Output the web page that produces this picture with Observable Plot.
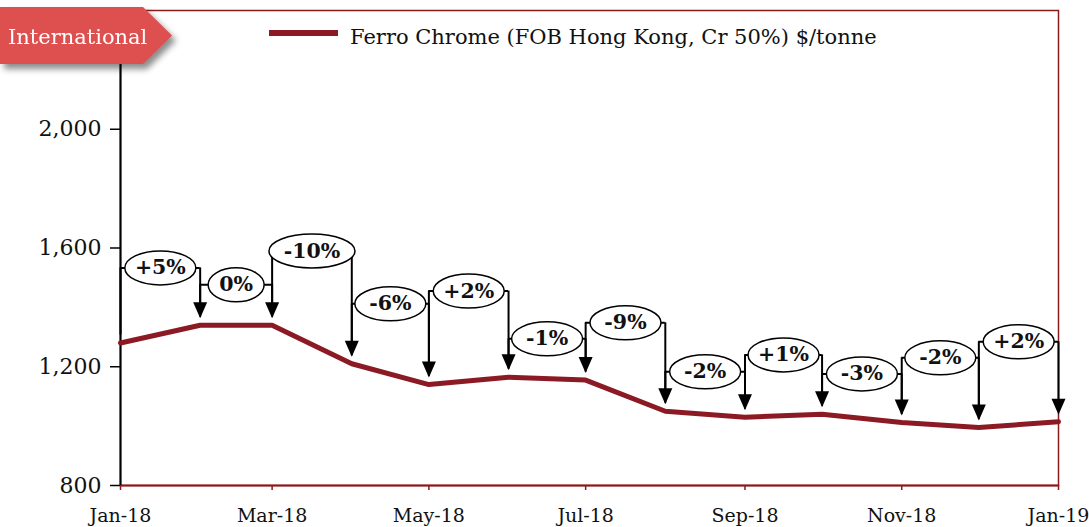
<!DOCTYPE html>
<html><head><meta charset="utf-8">
<script src="https://cdn.jsdelivr.net/npm/d3@7"></script>
<script src="https://cdn.jsdelivr.net/npm/@observablehq/plot@0.6"></script>
<style>
body{margin:0;background:#fff;}
#wrap{position:relative;width:1089px;height:527px;font-family:"DejaVu Serif",serif;}
#wrap svg{position:absolute;left:0;top:0;}
#tagwrap{position:absolute;left:0;top:7px;filter:drop-shadow(4px 5px 3px rgba(0,0,0,0.45));}
#tag{width:172px;height:57px;background:#DE4F4F;clip-path:polygon(0 0,143px 0,172px 50%,143px 100%,0 100%);color:#fff;font-size:21px;line-height:57px;padding-left:8px;padding-top:2px;box-sizing:border-box;}
#legend-sw{position:absolute;left:269px;top:30px;width:69px;height:6px;background:#8B1A24;}
#legend-tx{position:absolute;left:350px;top:22px;font-size:21px;line-height:30px;color:#111;white-space:nowrap;}
</style></head><body><div id="wrap"></div>
<script>
const months = ["2018-01-01","2018-02-01","2018-03-01","2018-04-01","2018-05-01","2018-06-01","2018-07-01","2018-08-01","2018-09-01","2018-10-01","2018-11-01","2018-12-01","2019-01-01"];
const prices = [1280,1340,1340,1210,1140,1165,1155,1050,1030,1040,1012,995,1015];
const changeLabels = ["+5%","0%","-10%","-6%","+2%","-1%","-9%","-2%","+1%","-3%","-2%","+2%"];
const bubbleLevels = [1533,1476,1590,1412,1455,1294,1348,1183,1240,1176,1230,1284];
const yTicks = [800,1200,1600,2000];
const xTickDates = ["2018-01-01","2018-03-01","2018-05-01","2018-07-01","2018-09-01","2018-11-01","2019-01-01"];
const xTickLabels = ["Jan-18","Mar-18","May-18","Jul-18","Sep-18","Nov-18","Jan-19"];
const seriesName = "Ferro Chrome (FOB Hong Kong, Cr 50%) $/tonne";
const regionLabel = "International";

const lineColor = "#8B1A24";
const frameColor = "#8B1A1A";
const dates = months.map(m => new Date(m));
const points = dates.map((d, i) => ({date: d, price: prices[i]}));
const segments = changeLabels.map((label, i) => ({
  label,
  x1: dates[i], x2: dates[i + 1],
  xm: new Date((+dates[i] + +dates[i + 1]) / 2),
  level: bubbleLevels[i], y1: prices[i], y2: prices[i + 1]
}));
const tickDates = xTickDates.map(d => new Date(d));
const labelOf = new Map(tickDates.map((d, i) => [+d, xTickLabels[i]]));

const arrowHead = {draw(ctx) { ctx.moveTo(0, 0); ctx.lineTo(-7, -16); ctx.lineTo(7, -16); ctx.closePath(); }};
const ellipse = {draw(ctx, size) {
  const rx = Math.sqrt(size / Math.PI), ry = 17, k = 0.5523;
  ctx.moveTo(rx, 0);
  ctx.bezierCurveTo(rx, ry * k, rx * k, ry, 0, ry);
  ctx.bezierCurveTo(-rx * k, ry, -rx, ry * k, -rx, 0);
  ctx.bezierCurveTo(-rx, -ry * k, -rx * k, -ry, 0, -ry);
  ctx.bezierCurveTo(rx * k, -ry, rx, -ry * k, rx, 0);
  ctx.closePath();
}};

const chart = Plot.plot({
  width: 1089, height: 527,
  marginLeft: 120, marginRight: 31, marginTop: 10, marginBottom: 42,
  style: {fontFamily: "DejaVu Serif", fontSize: "20px", color: "#111", background: "white"},
  x: {type: "time", domain: [dates[0], dates[dates.length - 1]]},
  y: {domain: [800, 2400]},
  r: {type: "identity"},
  marks: [
    Plot.frame({stroke: frameColor, strokeWidth: 1.5}),
    Plot.axisY({ticks: yTicks, tickFormat: d3.format(","), tickSize: 10, tickPadding: 9, stroke: "black", strokeWidth: 1.5, fill: "#111", fontSize: 22}),
    Plot.axisX({ticks: tickDates, tickFormat: d => labelOf.get(+d), tickSize: 5, tickPadding: 18, stroke: frameColor, strokeWidth: 1.5, fill: "#111", fontSize: 19}),
    Plot.ruleY([800], {stroke: frameColor, strokeWidth: 2}),
    Plot.ruleX([dates[0]], {stroke: "black", strokeWidth: 2}),
    Plot.line(points, {x: "date", y: "price", stroke: lineColor, strokeWidth: 5}),
    Plot.ruleY(segments, {y: "level", x1: "x1", x2: "x2", stroke: "black", strokeWidth: 2}),
    Plot.ruleX(segments, {x: "x1", y1: "level", y2: "y1", insetBottom: 8, stroke: "black", strokeWidth: 2}),
    Plot.ruleX(segments, {x: "x2", y1: "level", y2: "y2", insetBottom: 12, stroke: "black", strokeWidth: 2}),
    Plot.dot(segments, {x: "x2", y: "y2", dy: -7, symbol: arrowHead, fill: "black", stroke: "none", r: 5}),
    Plot.dot(segments, {x: "xm", y: "level", r: d => 13 + 7.5 * d.label.length, symbol: ellipse, fill: "white", stroke: "black", strokeWidth: 1.5}),
    Plot.text(segments, {x: "xm", y: "level", text: "label", fontWeight: "bold", fontSize: 20.5, fill: "#111"})
  ]
});

const wrap = document.getElementById("wrap");
wrap.appendChild(chart);
const sw = document.createElement("div");
sw.id = "legend-sw";
wrap.appendChild(sw);
const tx = document.createElement("div");
tx.id = "legend-tx";
tx.textContent = seriesName;
wrap.appendChild(tx);
const tagwrap = document.createElement("div");
tagwrap.id = "tagwrap";
const tag = document.createElement("div");
tag.id = "tag";
tag.textContent = regionLabel;
tagwrap.appendChild(tag);
wrap.appendChild(tagwrap);
</script></body></html>
